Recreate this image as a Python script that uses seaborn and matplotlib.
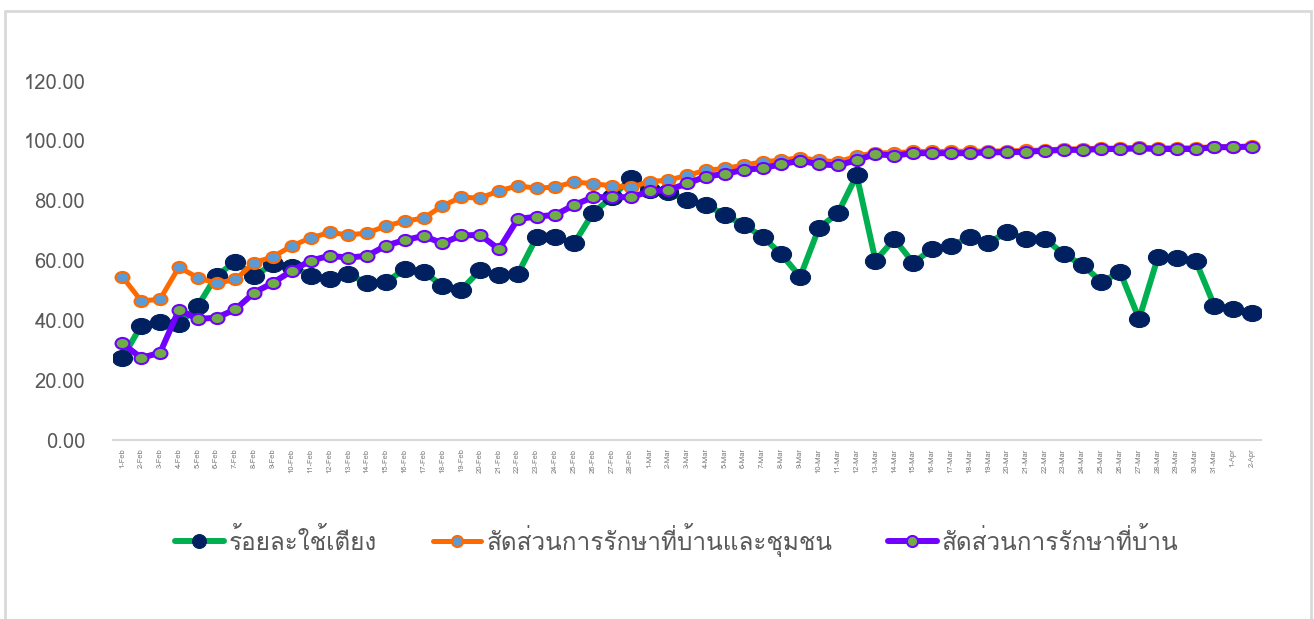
import matplotlib
matplotlib.use("Agg")
import matplotlib.pyplot as plt
from matplotlib import font_manager
from matplotlib.ft2font import FT2Font
from matplotlib.path import Path
from matplotlib.patches import Rectangle
import seaborn as sns
import numpy as np
import pandas as pd

# dates 1-Feb .. 2-Apr
dates = pd.date_range("2021-02-01", "2021-04-02")
date_labels = [f"{d.day}-{d:%b}" for d in dates]

# ร้อยละใช้เตียง
bed_pct = [
    27.5, 38.3, 39.5, 38.8, 44.8, 55.0, 59.6, 54.8, 58.9, 58.0,
    55.0, 53.8, 55.4, 52.5, 52.8, 57.2, 56.3, 51.5, 50.3, 56.8,
    55.2, 55.5, 67.8, 67.8, 65.8, 76.0, 81.2, 87.5,
    83.6, 82.8, 80.3, 78.6, 75.3, 71.9, 68.0, 62.1, 54.6, 71.0,
    75.8, 88.5, 60.0, 67.2, 59.3, 63.8, 64.9, 67.8, 65.8, 69.7,
    67.2, 67.3, 62.1, 58.5, 52.9, 56.1, 40.5, 61.1, 60.8, 60.0, 44.9,
    43.7, 42.4,
]
# สัดส่วนการรักษาที่บ้านและชุมชน
home_comm_pct = [
    54.6, 46.5, 47.1, 57.8, 54.3, 52.4, 53.7, 59.3, 61.3, 64.9,
    67.6, 69.4, 68.6, 69.2, 71.6, 73.2, 74.2, 78.3, 81.2, 80.9,
    83.3, 85.0, 84.2, 84.6, 86.3, 85.7, 85.0, 84.5,
    86.4, 86.9, 88.5, 90.2, 90.8, 91.9, 93.0, 93.6, 94.4, 93.5,
    93.0, 94.9, 96.1, 96.0, 96.5, 96.5, 96.5, 96.6, 96.6, 96.7,
    96.8, 97.0, 97.3, 97.4, 97.6, 97.6, 97.9, 97.7, 97.7, 97.7, 98.1,
    98.1, 98.3,
]
# สัดส่วนการรักษาที่บ้าน
home_pct = [
    32.3, 27.5, 29.2, 43.5, 40.5, 40.9, 43.7, 49.3, 52.6, 56.6,
    60.0, 61.6, 61.0, 61.6, 65.0, 66.9, 68.2, 65.8, 68.4, 68.6,
    63.8, 73.9, 74.7, 75.3, 78.6, 81.2, 81.2, 81.2,
    83.1, 83.6, 85.8, 88.1, 89.0, 90.3, 90.9, 92.2, 93.4, 92.2,
    91.8, 93.6, 95.6, 95.1, 95.9, 95.9, 95.9, 95.9, 96.2, 96.2,
    96.4, 96.7, 97.0, 97.0, 97.3, 97.3, 97.5, 97.3, 97.3, 97.3, 97.9,
    97.9, 98.1,
]
series_names = ["ร้อยละใช้เตียง", "สัดส่วนการรักษาที่บ้านและชุมชน", "สัดส่วนการรักษาที่บ้าน"]


def thai_font():
    # pick any installed family that actually has Thai glyphs
    for f in font_manager.fontManager.ttflist:
        try:
            if FT2Font(f.fname).get_char_index(0x0E2A):
                return f.name
        except Exception:
            pass
    return None


sns.set_style("white")
th = thai_font()
fams = [th, "DejaVu Sans"] if th else ["DejaVu Sans"]
plt.rcParams["font.family"] = fams

# slightly wide ellipse marker, like the stretched Excel export
circ = Path.unit_circle()
ellipse = Path(circ.vertices * np.array([1.25, 1.0]), circ.codes)

x = np.arange(len(date_labels))
fig = plt.figure(figsize=(13.14, 6.19), dpi=100)
ax = fig.add_axes([0.086, 0.289, 0.874, 0.58])

sns.lineplot(x=x, y=bed_pct, ax=ax, color="#00B050", linewidth=4.3,
             marker=ellipse, markersize=14.5, markerfacecolor="#002060",
             markeredgecolor="#002060", label=series_names[0], sort=False)
sns.lineplot(x=x, y=home_comm_pct, ax=ax, color="#FF6A00", linewidth=3.6,
             marker=ellipse, markersize=10, markerfacecolor="#5B9BD5",
             markeredgecolor="#FF6A00", markeredgewidth=1.5,
             label=series_names[1], sort=False)
sns.lineplot(x=x, y=home_pct, ax=ax, color="#7000FF", linewidth=4.3,
             marker=ellipse, markersize=10, markerfacecolor="#70AD47",
             markeredgecolor="#7000FF", markeredgewidth=1.5,
             label=series_names[2], sort=False)

ax.set_xlim(-0.5, len(x) - 0.5)
ax.set_ylim(0, 120)
ax.set_yticks(np.arange(0, 121, 20))
ax.set_yticklabels([f"{v:.2f}" for v in np.arange(0, 121, 20)])
ax.tick_params(axis="y", length=0, pad=20, labelsize=14.5, labelcolor="#595959")

ax.set_xticks(x)
ax.set_xticklabels(date_labels, rotation=90, fontsize=5.5, color="#7F7F7F")
ax.set_xticks(np.arange(-0.5, len(x), 1), minor=True)
ax.tick_params(axis="x", which="major", length=0, pad=6)
ax.tick_params(axis="x", which="minor", length=4, width=1, color="#D9D9D9")
ax.set_xlabel("")
ax.set_ylabel("")

for s in ["top", "right", "left"]:
    ax.spines[s].set_visible(False)
ax.spines["bottom"].set_color("#D9D9D9")
ax.spines["bottom"].set_linewidth(1.5)

leg = ax.legend(loc="center", bbox_to_anchor=(0.515, 0.128), bbox_transform=fig.transFigure,
                ncol=3, frameon=False, fontsize=17.5, handlelength=2.0, columnspacing=2.3,
                labelcolor="#595959", handletextpad=0.2)
for h, ms in zip(leg.legend_handles, [10, 8, 8]):
    h.set_marker("o")
    h.set_markersize(ms)

# light grey chart border
fig.patches.append(Rectangle((5 / 1314, -0.05), 1306 / 1314, 1.05 - 11 / 619,
                             transform=fig.transFigure, fill=False,
                             edgecolor="#D9D9D9", linewidth=2))

fig.savefig("out.png", dpi=100)
